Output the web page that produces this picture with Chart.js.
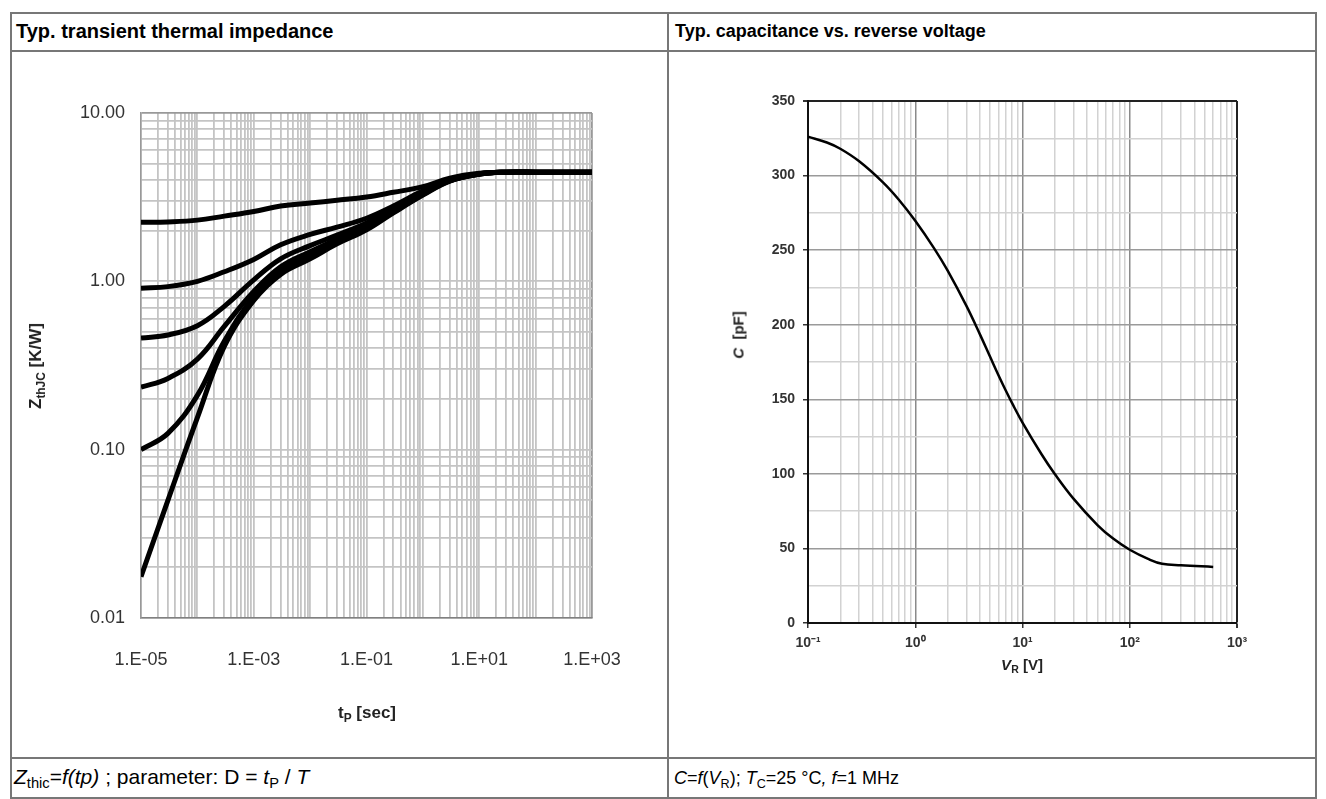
<!DOCTYPE html>
<html>
<head>
<meta charset="utf-8">
<title>Thermal impedance / capacitance</title>
<script src="https://cdn.jsdelivr.net/npm/chart.js"></script>
<style>
  body { margin: 0; background: #fff; font-family: "Liberation Sans", Arial, sans-serif; color: #000; }
  #sheet { position: relative; width: 1326px; height: 799px; overflow: hidden; }
  .hl, .vl { position: absolute; background: #777; }
  .hl { height: 2px; }
  .vl { width: 2px; }
  .txt { position: absolute; white-space: nowrap; }
  .head { font-weight: bold; font-size: 18px; }
  .cap { font-size: 18px; }
  sub { font-size: 70%; vertical-align: -0.3em; line-height: 0; }
  .plot { position: absolute; }
  .rot { position: absolute; transform: translate(-50%, -50%) rotate(-90deg); white-space: nowrap; }
</style>
</head>
<body>
<div id="sheet">
  <!-- table frame -->
  <div class="hl" style="left:10px; top:12px; width:1307px;"></div>
  <div class="hl" style="left:10px; top:50px; width:1307px;"></div>
  <div class="hl" style="left:10px; top:757px; width:1307px;"></div>
  <div class="hl" style="left:10px; top:797px; width:1307px;"></div>
  <div class="vl" style="left:10px; top:12px; height:787px;"></div>
  <div class="vl" style="left:667px; top:12px; height:787px;"></div>
  <div class="vl" style="left:1315px; top:12px; height:787px;"></div>

  <div class="txt head" style="left:16px; top:20px; font-size:20px;">Typ. transient thermal impedance</div>
  <div class="txt head" style="left:675px; top:21px;">Typ. capacitance vs. reverse voltage</div>

  <div class="txt cap" style="left:14px; top:765px; font-size:21px;"><i>Z</i><sub>thic</sub>=<i>f(tp)</i> ; parameter: D = <i>t</i><sub>P</sub> / <i>T</i></div>
  <div class="txt cap" style="left:674px; top:768px;"><i>C</i>=<i>f</i>(<i>V</i><sub>R</sub>); <i>T</i><sub>C</sub>=25 °C<i>,</i> <i>f</i>=1 MHz</div>

  <div class="plot" style="left:11px; top:52px; width:656px; height:705px;">
    <canvas id="zthChart" width="656" height="705"></canvas>
  </div>
  <div class="plot" style="left:669px; top:52px; width:646px; height:705px;">
    <canvas id="capChart" width="646" height="705"></canvas>
  </div>

  <!-- axis titles -->
  <div class="rot" style="left:36px; top:366px; font-weight:bold; font-size:17px; color:#222;">Z<sub>thJC</sub> [K/W]</div>
  <div class="txt" style="left:367px; top:713px; transform:translate(-50%,-50%); font-weight:bold; font-size:17px; color:#222;">t<sub>P</sub> [sec]</div>
  <div class="rot" style="left:738px; top:335px; font-weight:bold; font-size:15px; color:#222;"><i>C</i> &nbsp;[pF]</div>
  <div class="txt" style="left:1022px; top:664px; transform:translate(-50%,-50%); font-weight:bold; font-size:15px; color:#222;"><i>V</i><sub>R</sub> [V]</div>
</div>

<script>
// ---- left chart: Zth vs tp, one curve per duty cycle ----
const tp = [1e-5, 3e-5, 1e-4, 3e-4, 1e-3, 3e-3, 1e-2, 3e-2, 1e-1, 3e-1, 1, 3, 10, 30, 100, 1000];
const zthD050 = [2.24, 2.255, 2.31, 2.44, 2.6, 2.8, 2.92, 3.03, 3.17, 3.38, 3.65, 4.1, 4.38, 4.45, 4.45, 4.45];
const zthD020 = [0.91, 0.93, 1.0, 1.14, 1.35, 1.65, 1.9, 2.1, 2.37, 2.8, 3.45, 4.0, 4.36, 4.45, 4.45, 4.45];
const zthD010 = [0.46, 0.48, 0.545, 0.71, 1.02, 1.36, 1.63, 1.88, 2.22, 2.7, 3.38, 3.98, 4.35, 4.45, 4.45, 4.45];
const zthD005 = [0.235, 0.265, 0.345, 0.54, 0.87, 1.22, 1.5, 1.78, 2.12, 2.62, 3.32, 3.96, 4.34, 4.45, 4.45, 4.45];
const zthD002 = [0.10, 0.125, 0.21, 0.44, 0.81, 1.15, 1.42, 1.72, 2.06, 2.58, 3.28, 3.95, 4.33, 4.45, 4.45, 4.45];
const zthSingle = [0.0176, 0.05, 0.155, 0.41, 0.77, 1.1, 1.36, 1.67, 2.02, 2.55, 3.25, 3.94, 4.33, 4.45, 4.45, 4.45];
const dutyLabels = ['D=0.5', 'D=0.2', 'D=0.1', 'D=0.05', 'D=0.02', 'single pulse'];

const zthTickValues = [0.01, 0.1, 1, 10];
const zthTickLabels = ['0.01', '0.10', '1.00', '10.00'];
const tpTickValues = [1e-5, 1e-3, 1e-1, 1e1, 1e3];
const tpTickLabels = ['1.E-05', '1.E-03', '1.E-01', '1.E+01', '1.E+03'];

// ---- right chart: C vs VR ----
const vr = [0.1, 0.15, 0.2, 0.3, 0.5, 0.7, 1, 1.5, 2, 3, 4, 5, 6, 7, 8, 10, 15, 20, 30, 50, 70, 100, 150, 200, 300, 600];
const cap = [326, 322.2, 318, 309.6, 295.5, 284, 269.7, 251.2, 236.4, 212.6, 193.7, 178.3, 165.8, 155.7, 147.4, 134.4, 113.3, 99.9, 83.2, 65.7, 56.6, 49.1, 42.8, 39.7, 38.7, 37.6];
const vrTickValues = [0.1, 1, 10, 100, 1000];
const vrTickLabels = ['10\u207B\u00B9', '10\u2070', '10\u00B9', '10\u00B2', '10\u00B3'];
const capTickValues = [0, 50, 100, 150, 200, 250, 300, 350];
const capTickLabels = ['0', '50', '100', '150', '200', '250', '300', '350'];

const FONT = '"Liberation Sans", Arial, sans-serif';

// 1..9 x 10^n grid positions between min and max
function logGrid(min, max) {
    const out = [];
    for (let e = Math.round(Math.log10(min)); e <= Math.round(Math.log10(max)); e++) {
        for (let s = 1; s <= 9; s++) {
            const v = parseFloat((s * Math.pow(10, e)).toPrecision(6));
            if (v >= min * 0.999 && v <= max * 1.001) out.push(v);
        }
    }
    return out;
}

function isAt(values, v, log) {
    return values.findIndex(t => log ? Math.abs(Math.log10(t) - Math.log10(v)) < 1e-6 : Math.abs(t - v) < 1e-9);
}

function labelFor(values, labels, v, log) {
    const i = isAt(values, v, log);
    return i < 0 ? '' : labels[i];
}

function createZthChart() {
    const series = [zthD050, zthD020, zthD010, zthD005, zthD002, zthSingle];
    new Chart(document.getElementById('zthChart'), {
        type: 'line',
        data: {
            datasets: series.map((s, i) => ({
                label: dutyLabels[i],
                data: tp.map((t, k) => ({x: t, y: s[k]})),
                borderColor: '#000',
                borderWidth: 5,
                pointRadius: 0,
                tension: 0.4,
                fill: false
            }))
        },
        options: {
            responsive: false,
            animation: false,
            events: [],
            layout: {padding: {left: 0, top: 61, right: 75, bottom: 0}},
            plugins: {legend: {display: false}, tooltip: {enabled: false}},
            scales: {
                x: {
                    type: 'logarithmic', min: 1e-5, max: 1e3,
                    afterBuildTicks: s => { s.ticks = logGrid(1e-5, 1e3).map(v => ({value: v})); },
                    afterFit: s => { s.height = 139; },
                    grid: {color: c => c.tick && c.tick.value >= 999 ? '#999' : '#c4c4c4', lineWidth: 1.8, drawTicks: false},
                    border: {color: '#808080', width: 1.5},
                    ticks: {
                        autoSkip: false, maxRotation: 0, padding: 31, color: '#333',
                        font: {family: FONT, size: 18},
                        callback: v => labelFor(tpTickValues, tpTickLabels, v, true)
                    }
                },
                y: {
                    type: 'logarithmic', min: 0.01, max: 10,
                    afterBuildTicks: s => { s.ticks = logGrid(0.01, 10).map(v => ({value: v})); },
                    afterFit: s => { s.width = 130; },
                    grid: {color: c => c.tick && c.tick.value >= 9.99 ? '#999' : '#c4c4c4', lineWidth: 1.8, drawTicks: false},
                    border: {color: '#999', width: 1.5},
                    ticks: {
                        autoSkip: false, padding: 16, color: '#333',
                        font: {family: FONT, size: 18},
                        callback: v => labelFor(zthTickValues, zthTickLabels, v, true)
                    }
                }
            }
        }
    });
}

function createCapChart() {
    new Chart(document.getElementById('capChart'), {
        type: 'line',
        data: {
            datasets: [{
                label: 'C',
                data: vr.map((v, k) => ({x: v, y: cap[k]})),
                borderColor: '#000',
                borderWidth: 2.5,
                pointRadius: 0,
                tension: 0.4,
                fill: false
            }]
        },
        options: {
            responsive: false,
            animation: false,
            events: [],
            layout: {padding: {left: 0, top: 49, right: 78, bottom: 0}},
            plugins: {legend: {display: false}, tooltip: {enabled: false}},
            scales: {
                x: {
                    type: 'logarithmic', min: 0.1, max: 1000,
                    afterBuildTicks: s => { s.ticks = logGrid(0.1, 1000).map(v => ({value: v})); },
                    afterFit: s => { s.height = 134; },
                    grid: {
                        color: c => {
                            if (!c.tick) return '#d2d2d2';
                            if (c.tick.value >= 999) return '#222';
                            return isAt(vrTickValues, c.tick.value, true) >= 0 ? '#8a8a8a' : '#d2d2d2';
                        },
                        lineWidth: c => c.tick && c.tick.value >= 999 ? 2 : 1.5,
                        tickLength: 5,
                        tickColor: c => c.tick && isAt(vrTickValues, c.tick.value, true) >= 0 ? '#333' : 'rgba(0,0,0,0)'
                    },
                    border: {color: '#111', width: 2},
                    ticks: {
                        autoSkip: false, maxRotation: 0, padding: 7, color: '#333',
                        font: {family: FONT, size: 14, weight: 'bold'},
                        callback: v => labelFor(vrTickValues, vrTickLabels, v, true)
                    }
                },
                y: {
                    type: 'linear', min: 0, max: 350,
                    ticks: {
                        stepSize: 25, autoSkip: false, padding: 8, color: '#333',
                        font: {family: FONT, size: 14, weight: 'bold'},
                        callback: v => labelFor(capTickValues, capTickLabels, v, false)
                    },
                    afterFit: s => { s.width = 139; },
                    grid: {
                        color: c => {
                            if (!c.tick) return '#d2d2d2';
                            if (c.tick.value >= 350) return '#222';
                            return isAt(capTickValues, c.tick.value, false) >= 0 ? '#9a9a9a' : '#d2d2d2';
                        },
                        lineWidth: c => c.tick && c.tick.value >= 350 ? 2 : 1.5,
                        tickLength: 5,
                        tickColor: c => c.tick && isAt(capTickValues, c.tick.value, false) >= 0 ? '#333' : 'rgba(0,0,0,0)'
                    },
                    border: {color: '#111', width: 2}
                }
            }
        }
    });
}

window.onload = function () {
    createZthChart();
    createCapChart();
};
</script>
</body>
</html>
